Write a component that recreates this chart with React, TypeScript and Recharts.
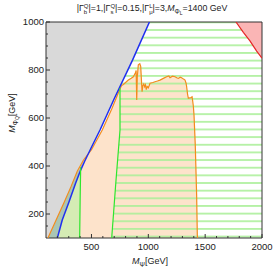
import React from 'react';
import { ComposedChart, Area, Line, XAxis, YAxis, ReferenceArea } from 'recharts';

const xMajor = [500, 1000, 1500, 2000];
const xMinor = [200, 300, 400, 600, 700, 800, 900, 1100, 1200, 1300, 1400, 1600, 1700, 1800, 1900];
const yMajor = [200, 400, 600, 800, 1000];
const yMinor = [150, 250, 300, 350, 450, 500, 550, 650, 700, 750, 850, 900, 950];

// gray excluded region, lower edge (top is 1000)
const grayX = [100, 117, 200, 258, 320, 375, 430, 500, 575, 700, 862, 1010];
const grayLow = [100, 100, 186, 247, 314, 378, 425, 478, 550, 680, 842, 1000];

// orange contour: diagonal, wiggly top, right edge
const orangeX = [117, 200, 258, 320, 375, 430, 500, 595, 680, 751, 765, 780, 800, 824, 850, 868, 885, 893, 898, 903,
  912, 925, 933, 945, 952, 960, 968, 975, 982, 990, 1000, 1015, 1040, 1059, 1080, 1103, 1132, 1161, 1180, 1191,
  1212, 1235, 1250, 1264, 1280, 1293, 1310, 1323, 1332, 1337, 1345, 1352, 1365, 1376, 1385, 1390, 1396, 1402, 1413, 1425,
  1431, 1433];
const orangeY = [100, 186, 247, 314, 378, 425, 468, 550, 640, 722, 735, 740, 748, 758, 766, 772, 786, 798, 675, 770,
  822, 826, 815, 710, 735, 742, 730, 738, 718, 732, 726, 745, 748, 751, 754, 758, 765, 772, 775, 768,
  774, 772, 768, 765, 770, 768, 762, 758, 745, 731, 700, 682, 684, 685, 688, 672, 650, 612, 487, 279,
  112, 100];

// blue contour
const blueX = [200, 243, 302, 361, 405, 440, 500, 575, 700, 862, 1010];
const blueY = [100, 175, 250, 329, 383, 420, 478, 550, 680, 842, 1000];

// thin wedge between orange and blue (bottom left)
const wedgeX = [117, 160, 200, 243, 302, 361, 405, 430];
const wedgeLow = [100, 100, 100, 175, 250, 329, 383, 420];
const wedgeHigh = [100, 143, 186, 231, 295, 362, 399, 425];

// solid green pocket
const pocketX = [200, 243, 302, 361, 400];
const pocketHigh = [100, 175, 250, 329, 380];
const pocketEdgeX = [396, 400, 405];
const pocketEdgeY = [100, 250, 395];

// hatched green region
const hatchX = [678, 716, 751, 751, 862, 1010, 2000];
const hatchHigh = [100, 342, 550, 731, 842, 1000, 1000];
const greenEdgeX = [678, 716, 751, 751];
const greenEdgeY = [100, 342, 550, 725];

// red region, lower edge
const redX = [1771, 1836, 1894, 1953, 2000];
const redY = [1000, 957, 921, 879, 849];

const FONT = '"Liberation Sans", Arial, sans-serif';

const range = (xs: number[], lo: number[] | number, hi: number[] | number) =>
  xs.map((x, i) => ({
    x,
    r: [typeof lo === 'number' ? lo : lo[i], typeof hi === 'number' ? hi : hi[i]],
  }));
const pts = (xs: number[], ys: number[]) => xs.map((x, i) => ({ x, y: ys[i] }));

const XTick = (props: any) => {
  const { x, y, payload } = props;
  const major = xMajor.includes(payload.value);
  return (
    <g>
      <line x1={x} x2={x} y1={y} y2={y - (major ? 4 : 2)} stroke="#333" />
      {major && (
        <text x={x} y={y + 12} textAnchor="middle" fontFamily={FONT} fontSize={9.5} fill="#222">
          {payload.value}
        </text>
      )}
    </g>
  );
};

const YTick = (props: any) => {
  const { x, y, payload } = props;
  const major = yMajor.includes(payload.value);
  return (
    <g>
      <line x1={x} x2={x + (major ? 4 : 2)} y1={y} y2={y} stroke="#333" />
      {major && (
        <text x={x - 2} y={y} dy="0.35em" textAnchor="end" fontFamily={FONT} fontSize={9.5} fill="#222">
          {payload.value}
        </text>
      )}
    </g>
  );
};

export default function App() {
  return (
    <div style={{ position: 'absolute', left: 0, top: 0, width: 274, height: 270, background: '#fff' }}>
      <ComposedChart width={274} height={270} margin={{ top: 22, right: 12, bottom: 0, left: 0 }}>
        <defs>
          <pattern id="hatch" patternUnits="userSpaceOnUse" x={0} y={26.2} width={8} height={7.65}>
            <line x1={0} x2={8} y1={3.8} y2={3.8} stroke="#a9ef97" strokeWidth={1.6} />
          </pattern>
        </defs>
        <XAxis
          dataKey="x"
          type="number"
          domain={[100, 2000]}
          allowDataOverflow
          height={32}
          ticks={[...xMinor, ...xMajor].sort((a, b) => a - b)}
          interval={0}
          tickSize={0}
          tickMargin={0}
          axisLine={false}
          tickLine={false}
          tick={<XTick />}
        />
        <YAxis
          type="number"
          domain={[100, 1000]}
          allowDataOverflow
          width={46}
          ticks={[...yMinor, ...yMajor].sort((a, b) => a - b)}
          interval={0}
          tickSize={0}
          tickMargin={0}
          axisLine={false}
          tickLine={false}
          tick={<YTick />}
        />
        <Area data={range(grayX, grayLow, 1000)} dataKey="r" type="linear" fill="#d9d9d9" fillOpacity={1} stroke="none" isAnimationActive={false} />
        <Area data={range(orangeX, 100, orangeY)} dataKey="r" type="linear" fill="#fde3cb" fillOpacity={1} stroke="none" isAnimationActive={false} />
        <Area data={range(wedgeX, wedgeLow, wedgeHigh)} dataKey="r" type="linear" fill="#a9c6b4" fillOpacity={1} stroke="none" isAnimationActive={false} />
        <Area data={range(pocketX, 100, pocketHigh)} dataKey="r" type="linear" fill="#d5ecb4" fillOpacity={1} stroke="none" isAnimationActive={false} />
        <Area data={range(hatchX, 100, hatchHigh)} dataKey="r" type="linear" fill="url(#hatch)" fillOpacity={1} stroke="none" isAnimationActive={false} />
        <Area data={range(redX, redY, 1000)} dataKey="r" type="linear" fill="#fab5b5" fillOpacity={1} stroke="none" isAnimationActive={false} />
        <Line data={pts(orangeX, orangeY)} dataKey="y" type="linear" stroke="#f28c1e" strokeWidth={1.2} dot={false} isAnimationActive={false} />
        <Line data={pts(blueX, blueY)} dataKey="y" type="linear" stroke="#2030f0" strokeWidth={1.5} dot={false} isAnimationActive={false} />
        <Line data={pts(greenEdgeX, greenEdgeY)} dataKey="y" type="linear" stroke="#2ee62e" strokeWidth={1.2} dot={false} isAnimationActive={false} />
        <Line data={pts(pocketEdgeX, pocketEdgeY)} dataKey="y" type="linear" stroke="#2ee62e" strokeWidth={1.2} dot={false} isAnimationActive={false} />
        <Line data={pts(redX, redY)} dataKey="y" type="linear" stroke="#e62626" strokeWidth={1.2} dot={false} isAnimationActive={false} />
        <ReferenceArea x1={100} x2={2000} y1={100} y2={1000} fill="none" stroke="#333" strokeWidth={1} ifOverflow="visible" />
        <text x={152} y={11} textAnchor="middle" fontFamily={FONT} fontSize={8.8} fill="#222">
          |Γ<tspan fontSize={6} dy={2.5}>b</tspan><tspan fontSize={6} dx={-3.3} dy={-6}>Q</tspan>
          <tspan dy={3.5}>|=1,|Γ</tspan><tspan fontSize={6} dy={2.5}>s</tspan><tspan fontSize={6} dx={-3} dy={-6}>Q</tspan>
          <tspan dy={3.5}>|=0.15,|Γ</tspan><tspan fontSize={6} dy={2.5}>μ</tspan><tspan fontSize={6} dx={-3.5} dy={-6}>L</tspan>
          <tspan dy={3.5}>|=3,</tspan><tspan fontStyle="italic">M</tspan><tspan fontSize={6.5} dy={2.5}>Φ</tspan>
          <tspan fontSize={5} dy={1.5}>L</tspan><tspan dy={-4}>=1400 GeV</tspan>
        </text>
        <text x={150} y={264} textAnchor="middle" fontFamily={FONT} fontSize={9} fill="#222">
          <tspan fontStyle="italic">M</tspan><tspan fontSize={6.5} dy={2.5}>Ψ</tspan><tspan dy={-2.5}>[GeV]</tspan>
        </text>
        <text x={15} y={113} transform="rotate(-90, 15, 113)" textAnchor="middle" fontFamily={FONT} fontSize={9} fill="#222">
          <tspan fontStyle="italic">M</tspan><tspan fontSize={6.5} dy={2.5}>Φ</tspan><tspan fontSize={5} dy={1.5}>Q</tspan>
          <tspan dy={-4}>[GeV]</tspan>
        </text>
      </ComposedChart>
    </div>
  );
}
